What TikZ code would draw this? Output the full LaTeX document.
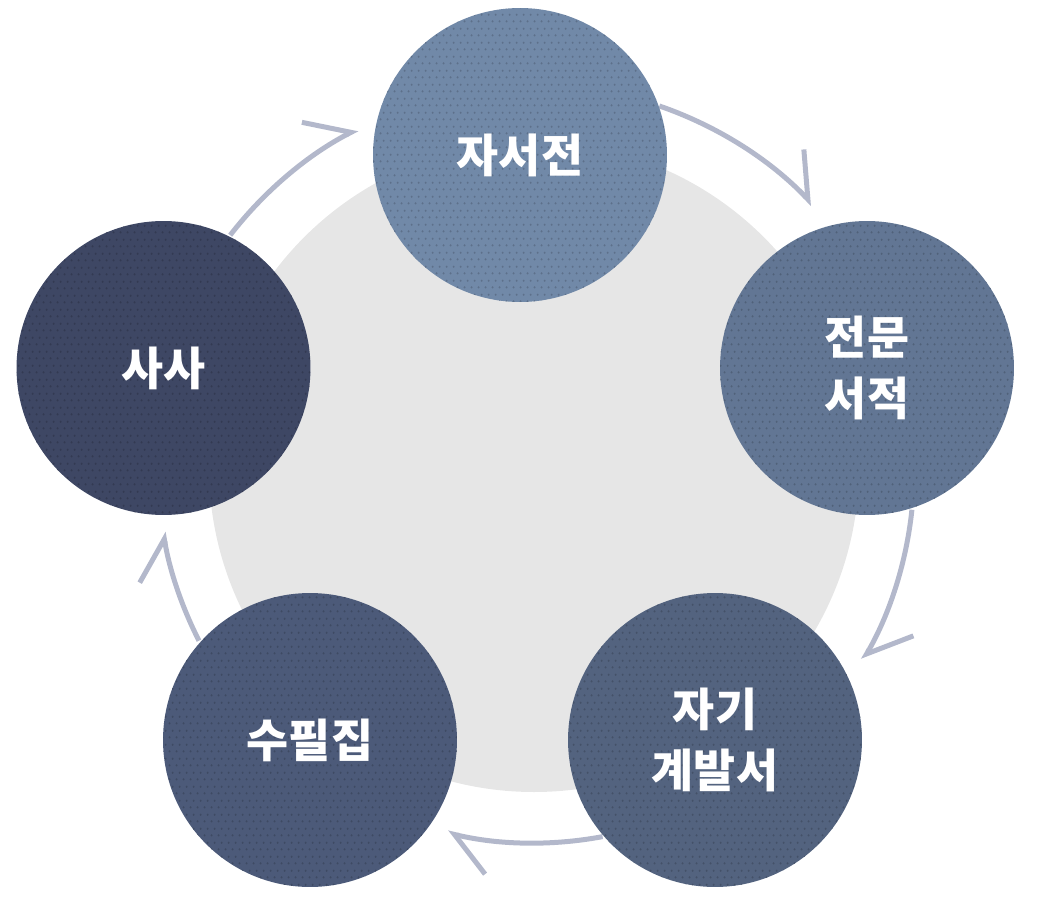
\documentclass[tikz,border=0pt]{standalone}
\usepackage{fontspec}
\usepackage{tikz}
\usetikzlibrary{arrows.meta, patterns}
\newfontfamily\kofont{Noto Sans CJK KR}

\definecolor{bookA}{HTML}{7189A8}
\definecolor{bookB}{HTML}{627694}
\definecolor{bookC}{HTML}{53637F}
\definecolor{bookD}{HTML}{4C5A79}
\definecolor{bookE}{HTML}{3E4764}
\definecolor{cyclegray}{HTML}{B3B8CB}
\definecolor{hubgray}{HTML}{E6E6E6}

% coarse offset dots for the book discs
\pgfdeclarepatternformonly{bookdots}{\pgfpointorigin}{\pgfqpoint{4pt}{8pt}}{\pgfqpoint{4pt}{8pt}}{
    \pgfpathcircle{\pgfqpoint{1pt}{1pt}}{0.7pt}
    \pgfpathcircle{\pgfqpoint{3pt}{5pt}}{0.7pt}
    \pgfusepath{fill}
}

\tikzset{
    book/.style={circle, minimum size=5.88cm, inner sep=0pt, fill=#1,
        postaction={pattern=bookdots, pattern color=#1!82!black},
        text=white, align=center, font=\kofont\bfseries\fontsize{26pt}{35pt}\selectfont},
    cycle/.style={draw=cyclegray, line width=0.1cm,
        -{Straight Barb[harpoon, length=0.78cm, width=1.26cm]}}
}

\begin{document}
\begin{tikzpicture}[x=0.02cm, y=0.02cm]
    \useasboundingbox (0,0) rectangle (1041,921);
    % background disc and ring centre
    \coordinate (hub) at (534,454);
    \coordinate (ring) at (534,451);
    \fill[hubgray] (hub) circle[radius=325];

    % arrows round the ring
    \foreach \a/\b/\r in {71/43.6/385, -6/-30/380, -79.4/-103.4/373, -153/-170.5/376, 142.3/117.4/384}
        \draw[cycle] (ring) ++(\a:\r) arc[start angle=\a, end angle=\b, radius=\r];

    % five kinds of books
    \node[book=bookA] (memoir)   at (520,766)   {자서전};
    \node[book=bookB] (special)  at (867,553)   {전문\\서적};
    \node[book=bookC] (selfhelp) at (715,181)   {자기\\계발서};
    \node[book=bookD] (essay)    at (310,181)   {수필집};
    \node[book=bookE] (history)  at (163.5,553) {사사};
\end{tikzpicture}
\end{document}
